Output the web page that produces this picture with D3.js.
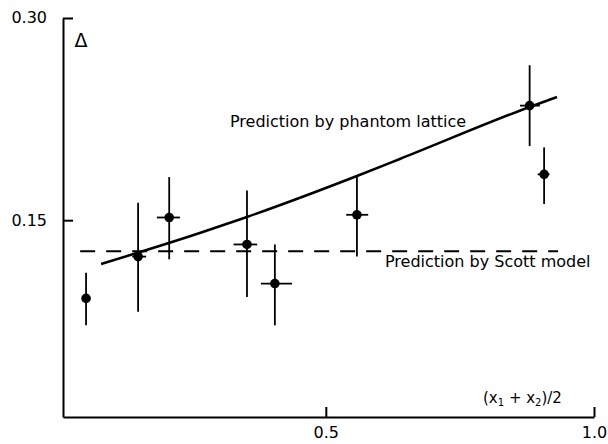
<!DOCTYPE html>
<html>
<head>
<meta charset="utf-8">
<script src="https://cdn.jsdelivr.net/npm/d3@7"></script>
<style>
  body { margin: 0; background: #fff; }
  text { font-family: "DejaVu Sans", sans-serif; fill: #000; }
</style>
</head>
<body>
<div id="chart"></div>
<script>
const width = 608;
const height = 444;

// measured points, Delta vs (x1 + x2)/2
const xMid = [0.053, 0.150, 0.208, 0.353, 0.405, 0.558, 0.880, 0.907];
const xLo = [null, 0.139, 0.185, 0.328, 0.379, 0.538, 0.862, 0.895];
const xHi = [null, 0.165, 0.228, 0.372, 0.437, 0.579, 0.899, 0.917];
const delta = [0.092, 0.123, 0.152, 0.132, 0.103, 0.154, 0.235, 0.184];
const deltaLo = [0.072, 0.082, 0.121, 0.093, 0.072, 0.123, 0.205, 0.162];
const deltaHi = [0.111, 0.163, 0.182, 0.172, 0.132, 0.182, 0.265, 0.204];

// prediction curves
const phantomX = [0.081, 0.265, 0.353, 0.558, 0.638, 0.880, 0.931];
const phantomY = [0.1175, 0.1405, 0.1524, 0.1828, 0.1954, 0.234, 0.2414];
const scottX = [0.042, 0.933];
const scottY = [0.127, 0.127];

const xTicks = [0.5, 1.0];
const yTicks = [0.15, 0.30];

const x = d3.scaleLinear().domain([0.01, 1.0]).range([63, 594]);
const y = d3.scaleLinear().domain([0.004, 0.30]).range([417, 18]);

const svg = d3.select("#chart")
    .append("svg")
    .attr("width", width)
    .attr("height", height);

// axes (ticks point inward)
const yAxis = svg.append("g")
    .attr("transform", `translate(${x(0.01)},0)`)
    .call(d3.axisLeft(y).tickValues(yTicks).tickFormat(d3.format(".2f"))
        .tickSizeInner(-10).tickSizeOuter(0).tickPadding(16));

const xAxis = svg.append("g")
    .attr("transform", `translate(0,${y(0.004)})`)
    .call(d3.axisBottom(x).tickValues(xTicks).tickFormat(d3.format(".1f"))
        .tickSizeInner(-10).tickSizeOuter(0).tickPadding(10));

[yAxis, xAxis].forEach(g => {
    g.select(".domain").attr("stroke", "#000").attr("stroke-width", 2);
    g.selectAll(".tick line").attr("stroke", "#000").attr("stroke-width", 2);
    g.selectAll(".tick text").attr("font-size", 16).attr("font-family", "DejaVu Sans");
});
yAxis.selectAll(".tick text").attr("dy", "0.3em");

// prediction lines
const line = d3.line().x(d => x(d[0])).y(d => y(d[1])).curve(d3.curveMonotoneX);

svg.append("path")
    .datum(phantomX.map((v, i) => [v, phantomY[i]]))
    .attr("d", line)
    .attr("fill", "none")
    .attr("stroke", "#000")
    .attr("stroke-width", 2.5);

svg.append("path")
    .datum(scottX.map((v, i) => [v, scottY[i]]))
    .attr("d", line)
    .attr("fill", "none")
    .attr("stroke", "#000")
    .attr("stroke-width", 2)
    .attr("stroke-dasharray", "15,11");

// error bars and points
const pts = xMid.map((v, i) => ({
    x: v, y: delta[i], lo: deltaLo[i], hi: deltaHi[i], xl: xLo[i], xh: xHi[i]
}));

svg.selectAll(".ebar")
    .data(pts)
    .enter().append("line")
    .attr("class", "ebar")
    .attr("x1", d => x(d.x)).attr("x2", d => x(d.x))
    .attr("y1", d => y(d.lo)).attr("y2", d => y(d.hi))
    .attr("stroke", "#000")
    .attr("stroke-width", 1.8);

svg.selectAll(".xbar")
    .data(pts.filter(d => d.xl !== null))
    .enter().append("line")
    .attr("class", "xbar")
    .attr("x1", d => x(d.xl)).attr("x2", d => x(d.xh))
    .attr("y1", d => y(d.y)).attr("y2", d => y(d.y))
    .attr("stroke", "#000")
    .attr("stroke-width", 1.8);

svg.selectAll(".dot")
    .data(pts)
    .enter().append("circle")
    .attr("class", "dot")
    .attr("cx", d => x(d.x))
    .attr("cy", d => y(d.y))
    .attr("r", 4.8)
    .attr("fill", "#000");

// labels
svg.append("text")
    .attr("x", 81).attr("y", 47)
    .attr("text-anchor", "middle")
    .attr("font-size", 19)
    .text("\u0394");

svg.append("text")
    .attr("x", 230).attr("y", 127)
    .attr("font-size", 16)
    .text("Prediction by phantom lattice");

svg.append("text")
    .attr("x", 385).attr("y", 267)
    .attr("font-size", 16)
    .text("Prediction by Scott model");

const xl = svg.append("text")
    .attr("x", 483).attr("y", 403)
    .attr("font-size", 15);
xl.append("tspan").text("(x");
xl.append("tspan").attr("font-size", 10).attr("dy", 3).text("1");
xl.append("tspan").attr("dy", -3).text(" + x");
xl.append("tspan").attr("font-size", 10).attr("dy", 3).text("2");
xl.append("tspan").attr("dy", -3).text(")/2");
</script>
</body>
</html>
